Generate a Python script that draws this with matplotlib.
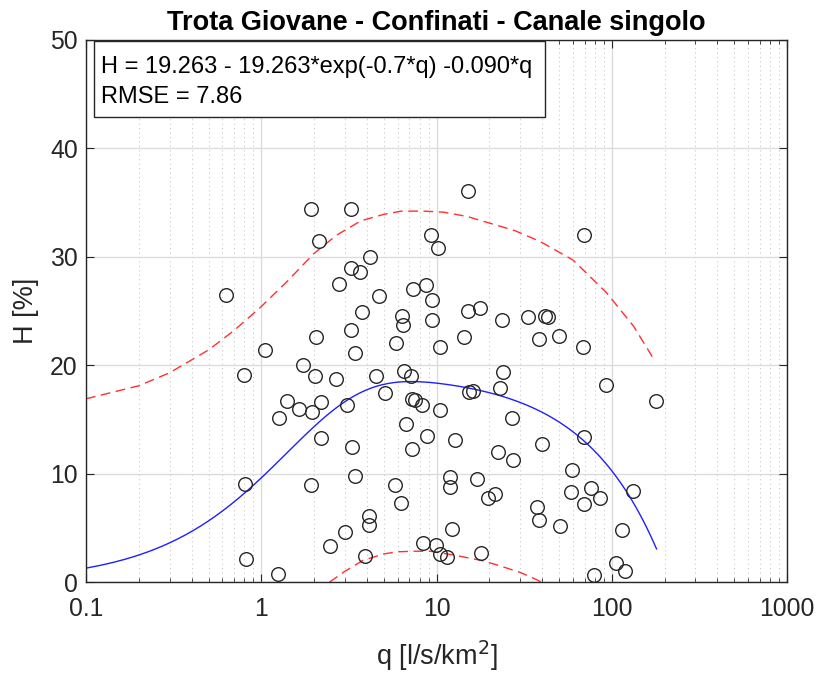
import numpy as np
import matplotlib
matplotlib.use('Agg')
import matplotlib.pyplot as plt
from matplotlib.patches import Rectangle
from matplotlib.ticker import LogLocator, FixedLocator, FuncFormatter

plt.rcParams['font.family'] = ['Liberation Sans', 'DejaVu Sans']

# osservazioni (q [l/s/km2], H [%])
q_obs = [1.92, 3.24, 15.1, 2.14, 9.27, 69.2, 10.2, 4.19, 3.24, 3.67,
         2.77, 0.63, 7.34, 8.75, 4.68, 9.39, 3.77, 6.33, 6.41, 9.46,
         2.05, 3.24, 5.87, 10.5, 1.05, 3.43, 1.74, 0.80, 2.03, 2.68,
         4.50, 6.55, 7.16, 15.1, 17.8, 23.6, 33.3, 41.8, 43.1, 14.3,
         38.5, 50.0, 68.3, 24.0, 1.40, 1.65, 1.96, 2.18, 1.26, 3.08,
         5.08, 7.22, 7.51, 8.24, 10.5, 6.67, 8.86, 2.18, 3.30, 7.25,
         3.44, 0.81, 1.93, 5.80, 6.25, 4.10, 4.14, 3.01, 2.47, 8.41,
         9.94, 10.5, 11.5, 3.89, 0.82, 1.24, 15.3, 16.2, 23.1, 93.1,
         179, 27.1, 12.8, 40.2, 69.7, 22.4, 27.4, 12.0, 12.0, 17.0,
         19.6, 21.7, 59.6, 58.8, 76.2, 85.3, 69.7, 132, 37.6, 38.6,
         50.5, 12.3, 114, 17.9, 106, 119, 78.9]
H_obs = [34.4, 34.4, 36.1, 31.4, 32.0, 32.0, 30.8, 30.0, 29.0, 28.6,
         27.5, 26.5, 27.0, 27.4, 26.4, 26.0, 24.9, 24.5, 23.7, 24.2,
         22.6, 23.2, 22.0, 21.7, 21.4, 21.1, 20.0, 19.1, 19.0, 18.7,
         19.0, 19.5, 19.0, 25.0, 25.3, 24.2, 24.4, 24.5, 24.4, 22.6,
         22.4, 22.7, 21.7, 19.4, 16.7, 16.0, 15.7, 16.6, 15.1, 16.3,
         17.4, 16.9, 16.8, 16.3, 15.9, 14.6, 13.5, 13.3, 12.5, 12.3,
         9.8, 9.05, 8.96, 9.0, 7.3, 6.1, 5.3, 4.6, 3.3, 3.6,
         3.4, 2.6, 2.3, 2.4, 2.1, 0.77, 17.5, 17.6, 17.9, 18.2,
         16.7, 15.1, 13.1, 12.7, 13.4, 12.0, 11.3, 9.7, 8.8, 9.5,
         7.8, 8.1, 10.3, 8.3, 8.7, 7.8, 7.2, 8.4, 6.95, 5.7,
         5.2, 4.9, 4.8, 2.7, 1.8, 1.0, 0.65]

# parametri del modello (dal riquadro)
A = 19.263
k = 0.7
b = 0.090
rmse = 7.86

# limiti della banda
q_up = [0.1, 0.2, 0.3, 0.5, 0.7, 1.0, 1.4, 2.0, 2.7, 3.7, 5.0, 6.3, 8.5,
        11, 15, 20, 28, 39, 60, 93, 133, 170, 180]
H_up = [16.9, 18.1, 19.3, 21.4, 23.2, 25.4, 27.7, 30.3, 32.0, 33.3, 33.9,
        34.2, 34.2, 34.1, 33.7, 33.1, 32.4, 31.4, 29.7, 26.7, 23.6, 20.8, 20.6]
q_lo = [2.45, 3.0, 3.8, 5.0, 6.0, 7.5, 9.2, 12, 14, 18, 22, 30, 37, 39.7]
H_lo = [0.0, 1.0, 2.0, 2.6, 2.8, 2.85, 2.85, 2.55, 2.35, 2.0, 1.6, 0.9, 0.25, 0.0]

q_fit = np.logspace(-1, np.log10(180), 300)
H_fit = A - A * np.exp(-k * q_fit) - b * q_fit

fig = plt.figure(figsize=(8.19, 6.73), dpi=100)
ax = fig.add_axes([0.105, 0.135, 0.856, 0.806])

ax.plot(q_obs, H_obs, 'o', ms=9.8, mfc='none', mec='#262626', mew=1.0, zorder=3)
ax.plot(q_fit, H_fit, color='#1f1fff', lw=1.0, zorder=2)
ax.plot(q_up, H_up, '--', color='#ff3030', lw=1.0, dashes=(7, 4), zorder=2)
ax.plot(q_lo, H_lo, '--', color='#ff3030', lw=1.0, dashes=(7, 4), zorder=2)

ax.set_xscale('log')
ax.set_xlim(0.1, 1000)
ax.set_ylim(0, 50)
ax.xaxis.set_major_locator(FixedLocator([0.1, 1, 10, 100, 1000]))
ax.xaxis.set_major_formatter(FuncFormatter(lambda v, p: '%g' % v))
ax.xaxis.set_minor_locator(LogLocator(base=10, subs=np.arange(2, 10)))
ax.set_yticks([0, 10, 20, 30, 40, 50])

ax.grid(which='major', color='#dcdcdc', lw=1.0, ls='-')
ax.grid(which='minor', axis='x', color='#c8c8c8', lw=0.8, ls=(0, (1, 3)))
ax.set_axisbelow(True)
ax.tick_params(which='both', direction='in', top=True, right=True,
               labelsize=17.8, colors='#262626')
ax.tick_params(which='major', length=6)
ax.tick_params(which='minor', length=3)
ax.tick_params(axis='x', pad=11)
ax.tick_params(axis='y', pad=6)
for s in ax.spines.values():
    s.set_color('#262626')
    s.set_linewidth(1.0)

ax.set_title('Trota Giovane - Confinati - Canale singolo', fontsize=19.5,
             fontweight='bold', pad=7)
ax.set_xlabel('q [l/s/km$^2$]', fontsize=19.5, color='#262626', labelpad=12)
ax.set_ylabel('H [%]', fontsize=19.5, color='#262626', labelpad=8)

# riquadro con equazione
t1 = ax.text(0.0214, 0.949, 'H = %.3f - %.3f*exp(-%.1f*q) -%.3f*q' % (A, A, k, b),
             transform=ax.transAxes, fontsize=17, va='center', ha='left', zorder=5)
t2 = ax.text(0.0214, 0.894, 'RMSE = %.2f' % rmse,
             transform=ax.transAxes, fontsize=17, va='center', ha='left', zorder=5)
fig.canvas.draw()
bb = t1.get_window_extent()
x_right = ax.transAxes.inverted().transform((bb.x1 + 13, 0))[0]
ax.add_patch(Rectangle((0.0114, 0.857), x_right - 0.0114, 0.14,
                       transform=ax.transAxes, fc='white', ec='#262626',
                       lw=1.0, zorder=4))

fig.savefig('out.png', dpi=100)
